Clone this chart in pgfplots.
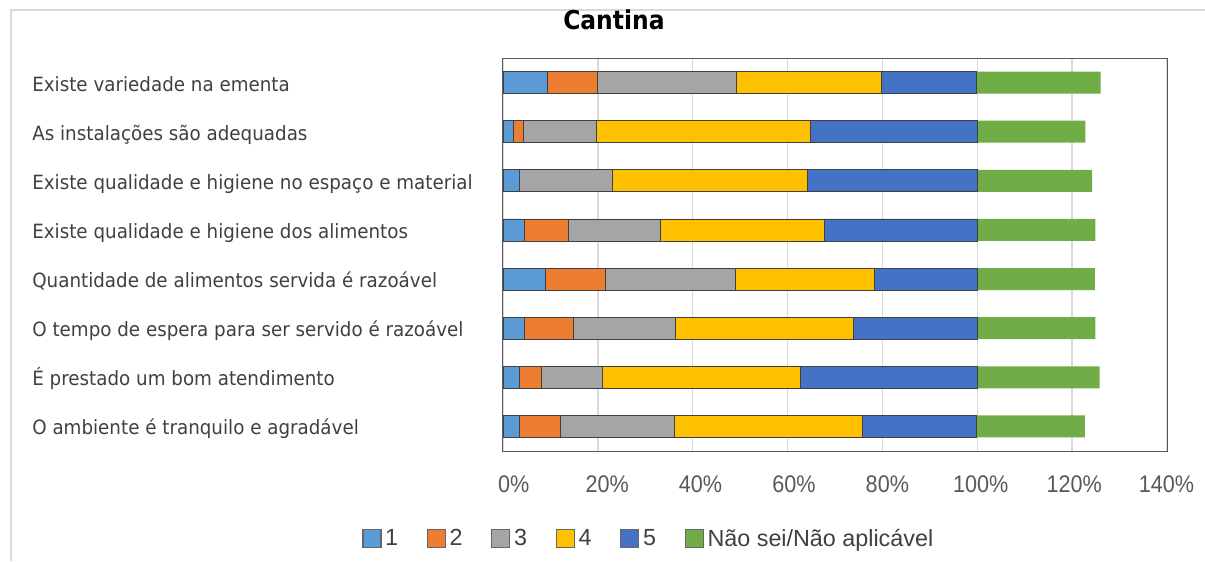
\documentclass[border=0pt]{standalone}
\usepackage{fontspec}
\usepackage{pgfplots}
\usepackage{pgfplotstable}
\pgfplotsset{compat=1.18}
\setmainfont{DejaVu Sans}
\newfontfamily\catfont[FakeStretch=0.93]{DejaVu Sans}
\newfontfamily\titlefont[FakeStretch=0.9]{DejaVu Sans}
\newfontfamily\tickfont[FakeStretch=0.9]{Liberation Sans}
\newfontfamily\legfont{Liberation Sans}

\newlength\upx
\setlength\upx{0.6pt}

\definecolor{c1}{HTML}{5B9BD5}
\definecolor{c2}{HTML}{ED7D31}
\definecolor{c3}{HTML}{A5A5A5}
\definecolor{c4}{HTML}{FFC000}
\definecolor{c5}{HTML}{4472C4}
\definecolor{c6}{HTML}{70AD47}
\definecolor{labc}{HTML}{404040}
\definecolor{tickc}{HTML}{595959}
\definecolor{gridc}{HTML}{D9D9D9}

% one row per question, top to bottom; values in %
\pgfplotstableread{
idx  a    b    c    d    e    f
0    9.4  10.6 29.3 30.5 20.1 26.1
1    2.1  2.3  15.3 45.1 35.2 22.8
2    3.4  0    19.6 41.2 35.8 24.2
3    4.6  9.2  19.4 34.5 32.3 24.9
4    9.0  12.6 27.3 29.5 21.6 24.8
5    4.6  10.3 21.5 37.5 26.2 24.8
6    3.4  4.6  12.9 41.7 37.4 25.8
7    3.4  8.6  24.2 39.5 24.2 22.8
}\data

\begin{document}
\begin{tikzpicture}
\useasboundingbox (0,0) rectangle (1205\upx,561\upx);
\draw[gridc, line width=2\upx] (11\upx,0) -- (11\upx,551\upx) -- (1205\upx,551\upx);
\begin{axis}[
  at={(503\upx,110\upx)}, anchor=south west,
  scale only axis, width=664\upx, height=393\upx,
  xbar stacked, bar width=22\upx,
  xmin=0, xmax=140, ymin=-0.5, ymax=7.5, y dir=reverse,
  xtick={0,20,...,140}, xticklabels={},
  extra x ticks={2.28,21.97,41.66,61.35,81.04,100.73,120.42,139.9},
  extra x tick labels={0\%,20\%,40\%,60\%,80\%,100\%,120\%,140\%},
  extra x tick style={grid=none, major tick length=0pt},
  ytick={0,...,7},
  yticklabels={Existe variedade na ementa,
    As instalações são adequadas,
    Existe qualidade e higiene no espaço e material,
    Existe qualidade e higiene dos alimentos,
    Quantidade de alimentos servida é razoável,
    O tempo de espera para ser servido é razoável,
    É prestado um bom atendimento,
    O ambiente é tranquilo e agradável},
  major tick length=0pt,
  xmajorgrids, grid style={draw=gridc, line width=1.3\upx},
  axis line style={draw=black!65, line width=1\upx},
  xticklabel style={font=\tickfont\fontsize{14.4}{16}\selectfont, text=tickc,
    anchor=base, yshift=-41\upx, inner sep=0pt},
  yticklabel style={font=\catfont\fontsize{11.8}{14}\selectfont, text=labc,
    anchor=base west, inner sep=0pt, xshift=-471\upx, yshift=-8.5\upx},
  title={Cantina},
  title style={at={(axis description cs:0.167,1.0476)}, anchor=base,
    font=\titlefont\bfseries\fontsize{15.6}{18}\selectfont, inner sep=0pt},
  legend style={at={(axis description cs:-0.2123,-0.2232)}, anchor=west,
    draw=none, fill=none, legend columns=-1, inner sep=0pt,
    font=\legfont\fontsize{14}{16}\selectfont, text=labc,
    nodes={inner sep=0pt},
    /tikz/every odd column/.style={column sep=2.2pt},
    /tikz/every even column/.style={column sep=17.2pt}},
  legend image code/.code={\draw[#1, draw=black!60, line width=0.7pt]
    (0pt,-5.3pt) rectangle (10.8pt,5.5pt);},
]
\addplot[fill=c1, draw=black!75, line width=0.8\upx] table[x=a, y=idx]{\data};
\addplot[fill=c2, draw=black!75, line width=0.8\upx] table[x=b, y=idx]{\data};
\addplot[fill=c3, draw=black!75, line width=0.8\upx] table[x=c, y=idx]{\data};
\addplot[fill=c4, draw=black!75, line width=0.8\upx] table[x=d, y=idx]{\data};
\addplot[fill=c5, draw=black!75, line width=0.8\upx] table[x=e, y=idx]{\data};
\addplot[fill=c6, draw=none] table[x=f, y=idx]{\data};
\legend{1,2,3,4,5,Não sei/Não aplicável}
\end{axis}
\end{tikzpicture}
\end{document}
